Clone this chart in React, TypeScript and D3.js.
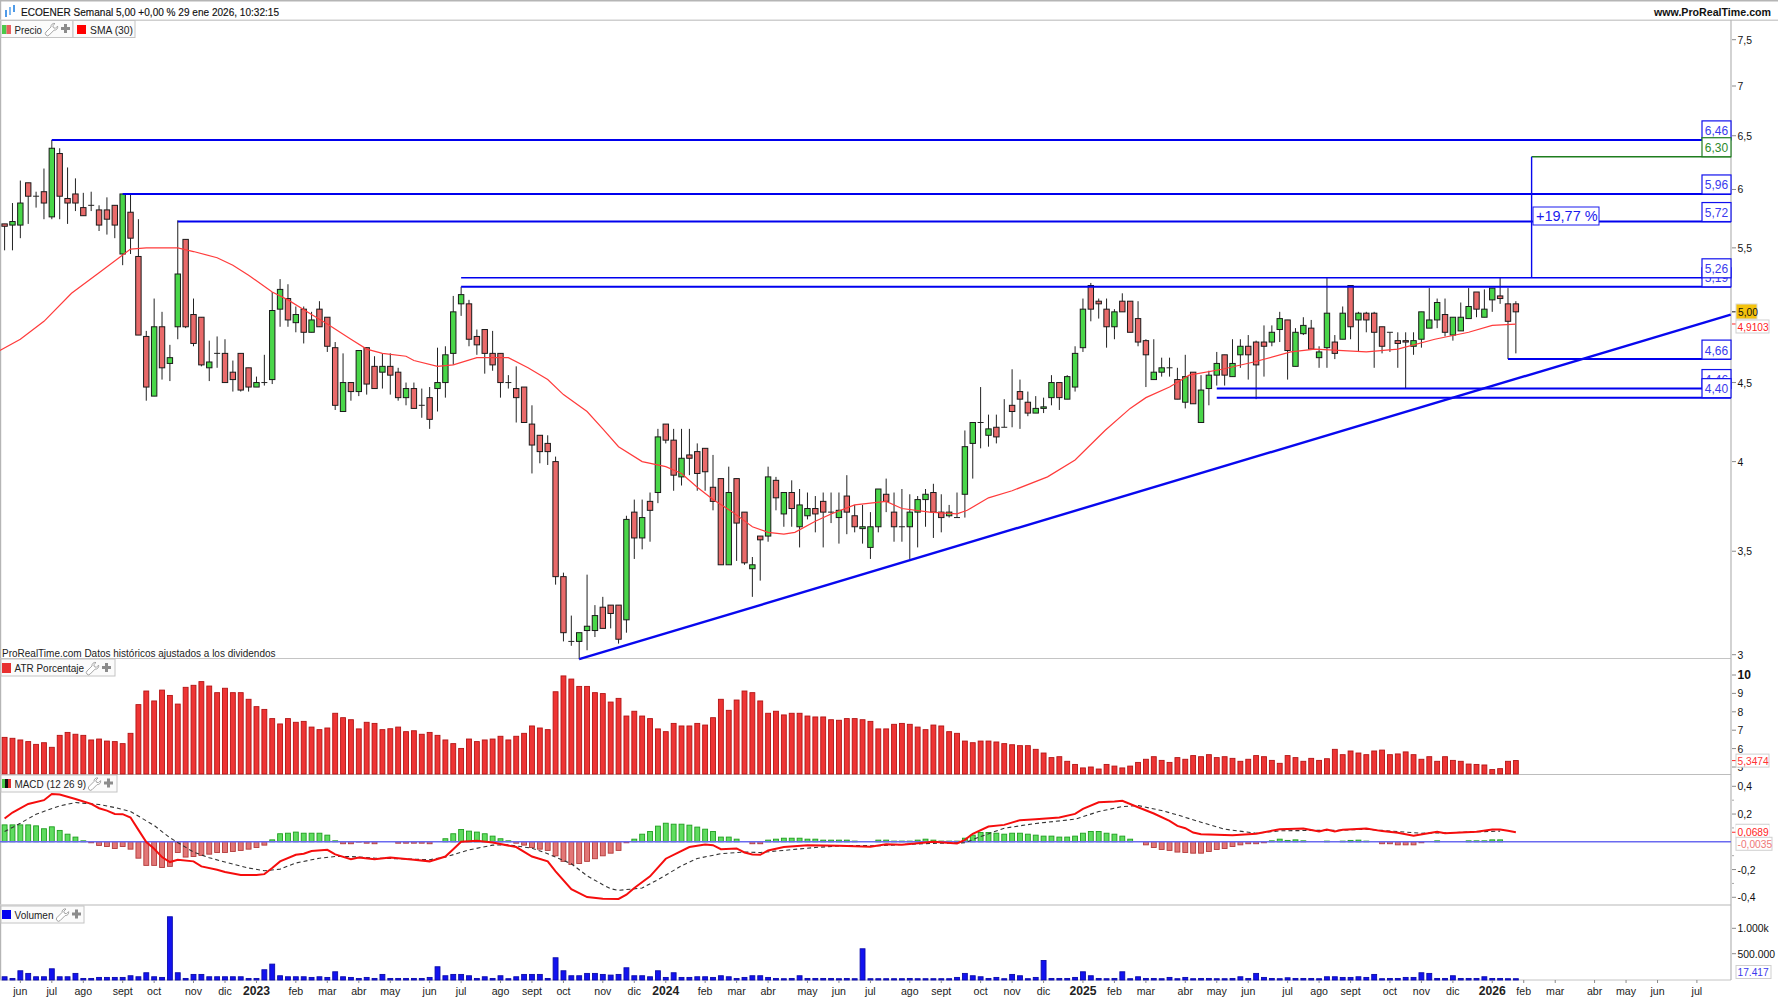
import React from 'react'
import * as d3 from 'd3'

// weekly candles, index 0 = week of 23 may 2022
const opens = [
  5.70,5.69,5.69,6.06,5.94,5.98,5.76,6.33,5.92,5.96,
  5.84,5.86,5.82,5.82,5.86,5.45,5.80,5.43,4.82,4.41,
  4.89,4.63,4.89,5.57,4.98,4.96,4.60,4.70,4.70,4.57,
  4.70,4.60,4.47,4.50,4.52,5.02,5.10,4.92,5.02,4.85,
  5.02,4.96,4.74,4.31,4.50,4.44,4.74,4.61,4.57,4.61,
  4.57,4.40,4.46,4.35,4.40,4.46,4.50,4.70,5.06,5.06,
  4.82,4.87,4.70,4.70,4.50,4.46,4.47,4.23,4.16,4.11,
  4.00,3.37,3.06,3.06,3.11,3.11,3.22,3.23,3.23,3.16,
  3.71,3.57,3.77,3.82,4.23,4.13,3.91,4.04,4.06,4.08,
  3.85,3.90,3.43,3.90,3.71,3.41,3.58,3.58,3.89,3.70,
  3.82,3.63,3.69,3.73,3.77,3.71,3.68,3.80,3.69,3.62,
  3.52,3.63,3.81,3.71,3.63,3.63,3.71,3.78,3.82,3.71,
  3.69,3.68,3.81,4.11,4.24,4.16,4.21,4.21,4.35,4.44,
  4.37,4.30,4.33,4.40,4.50,4.39,4.47,4.74,5.20,5.08,
  5.02,4.89,5.08,5.08,4.95,4.79,4.52,4.57,4.60,4.52,
  4.37,4.57,4.24,4.46,4.55,4.69,4.54,4.69,4.75,4.78,
  4.78,4.78,4.87,4.94,4.61,4.84,4.88,4.67,4.74,4.78,
  4.80,5.20,4.94,4.99,4.99,4.89,4.85,4.79,4.79,4.75,
  4.80,4.88,4.94,4.98,4.83,4.86,4.95,5.15,4.96,5.09,
  5.12,5.06,5.06,
]
const closes = [
  5.68,5.72,5.88,5.94,5.94,5.88,6.38,5.94,5.88,5.88,
  5.77,5.86,5.69,5.74,5.69,5.96,5.58,4.83,4.47,4.89,
  4.60,4.67,5.29,4.89,4.77,4.62,4.64,4.70,4.50,4.52,
  4.45,4.47,4.50,4.50,5.01,5.17,4.94,4.98,4.85,4.94,
  4.89,4.75,4.35,4.50,4.44,4.72,4.49,4.46,4.61,4.55,
  4.40,4.46,4.33,4.35,4.26,4.50,4.69,5.00,5.13,4.80,
  4.76,4.70,4.62,4.50,4.50,4.40,4.24,4.10,4.06,4.06,
  3.37,3.10,3.06,3.10,3.13,3.18,3.12,3.19,3.07,3.67,
  3.57,3.68,3.72,4.15,4.13,3.92,4.02,4.02,3.93,3.94,
  3.77,3.43,3.82,3.65,3.44,3.43,3.56,3.91,3.79,3.82,
  3.73,3.75,3.73,3.70,3.71,3.71,3.72,3.71,3.63,3.63,
  3.63,3.84,3.77,3.63,3.63,3.71,3.78,3.81,3.71,3.68,
  3.71,3.68,4.09,4.24,4.24,4.20,4.15,4.21,4.31,4.39,
  4.30,4.33,4.34,4.50,4.40,4.54,4.70,5.02,5.02,5.06,
  4.89,5.00,5.00,4.85,4.78,4.69,4.57,4.60,4.60,4.39,
  4.54,4.36,4.45,4.55,4.63,4.55,4.63,4.75,4.69,4.62,
  4.75,4.85,4.95,4.72,4.85,4.90,4.73,4.71,4.99,4.70,
  4.99,4.89,4.99,4.94,4.85,4.75,4.85,4.77,4.78,4.79,
  5.00,4.94,5.07,4.85,4.96,4.96,5.04,5.02,5.02,5.18,
  5.10,4.93,5.00,
]
const highs = [
  5.70,5.88,6.08,6.06,5.98,6.19,6.46,6.38,6.20,6.10,
  5.97,5.98,5.86,5.93,5.86,5.96,5.96,5.74,4.86,5.10,
  5.00,4.76,5.73,5.57,5.10,4.96,4.79,4.82,4.80,4.65,
  4.70,4.60,4.54,4.69,5.15,5.25,5.21,5.04,5.04,5.00,
  5.08,4.96,4.78,4.70,4.50,4.72,4.74,4.68,4.70,4.70,
  4.60,4.50,4.50,4.46,4.47,4.74,4.75,5.12,5.19,5.09,
  4.87,4.87,4.86,4.70,4.55,4.61,4.47,4.35,4.16,4.16,
  4.03,3.39,3.18,3.10,3.38,3.23,3.27,3.23,3.23,3.69,
  3.78,3.78,3.82,4.20,4.23,4.20,4.20,4.20,4.11,4.08,
  4.04,3.90,3.97,3.90,3.71,3.47,3.58,3.97,3.91,3.82,
  3.89,3.84,3.82,3.80,3.82,3.82,3.82,3.92,3.75,3.75,
  3.71,3.84,3.90,3.82,3.84,3.81,3.80,3.84,3.87,3.81,
  3.75,3.82,4.19,4.24,4.47,4.29,4.29,4.39,4.59,4.52,
  4.44,4.41,4.40,4.55,4.50,4.55,4.75,5.10,5.22,5.10,
  5.10,5.02,5.14,5.08,5.08,4.80,4.80,4.67,4.67,4.60,
  4.69,4.57,4.55,4.58,4.71,4.69,4.80,4.80,4.83,4.79,
  4.90,4.90,5.00,4.94,4.88,4.96,4.94,4.75,5.26,4.83,
  5.04,5.20,5.00,5.00,5.00,4.89,4.85,4.85,4.85,4.85,
  5.00,5.18,5.10,5.10,4.96,5.07,5.18,5.15,5.17,5.18,
  5.26,5.18,5.08,
]
const lows = [
  5.48,5.48,5.58,5.70,5.84,5.74,5.74,5.74,5.70,5.81,
  5.77,5.81,5.64,5.61,5.58,5.36,5.45,4.83,4.38,4.41,
  4.52,4.51,4.80,4.88,4.75,4.61,4.51,4.60,4.50,4.44,
  4.44,4.44,4.47,4.48,4.49,4.89,4.89,4.85,4.77,4.85,
  4.89,4.71,4.32,4.31,4.38,4.41,4.42,4.46,4.46,4.42,
  4.38,4.35,4.33,4.27,4.20,4.31,4.40,4.62,4.97,4.75,
  4.69,4.56,4.58,4.40,4.46,4.24,4.24,3.93,3.99,3.98,
  3.33,3.06,3.04,2.98,3.02,3.08,3.12,3.12,3.05,3.10,
  3.46,3.51,3.55,3.76,4.11,3.83,3.86,3.92,3.83,3.83,
  3.72,3.43,3.43,3.45,3.43,3.27,3.35,3.55,3.72,3.63,
  3.63,3.52,3.67,3.60,3.52,3.65,3.54,3.59,3.60,3.54,
  3.46,3.60,3.71,3.55,3.55,3.46,3.52,3.63,3.57,3.60,
  3.68,3.68,3.68,3.90,4.08,4.09,4.11,4.21,4.21,4.20,
  4.28,4.30,4.30,4.35,4.32,4.39,4.44,4.71,4.93,4.95,
  4.74,4.80,5.00,4.85,4.75,4.47,4.52,4.54,4.54,4.39,
  4.33,4.36,4.24,4.35,4.48,4.48,4.54,4.60,4.52,4.39,
  4.54,4.75,4.78,4.52,4.61,4.83,4.73,4.60,4.60,4.66,
  4.80,4.80,4.71,4.85,4.60,4.70,4.71,4.60,4.46,4.69,
  4.74,4.88,4.88,4.82,4.79,4.86,4.95,4.96,4.96,5.00,
  5.06,4.66,4.70,
]

// SMA(30) read at a set of weeks
const smaWeeks = [-0.6,2,5,8.5,12,16,18,22,24,27,29,31,34,36,39,41,44,46,48,51,52,55,57,60,64,66.5,69,71,74,76,78,81,84,86,88,90,92.5,95,97,99,100.4,103,105,108,112,114,117.5,121,122.3,125,128,132.5,136,139.8,143,145,148,150.5,154.7,158.7,163.4,166.5,173,177,181.7,186,189,192]
const smaValues = [4.72,4.80,4.93,5.14,5.30,5.49,5.50,5.50,5.47,5.42,5.36,5.28,5.15,5.09,4.98,4.91,4.80,4.73,4.70,4.68,4.65,4.61,4.62,4.67,4.67,4.60,4.52,4.42,4.31,4.20,4.09,4.00,3.97,3.93,3.85,3.78,3.71,3.63,3.60,3.59,3.60,3.66,3.70,3.75,3.77,3.73,3.71,3.70,3.72,3.79,3.83,3.91,4.01,4.19,4.33,4.40,4.47,4.55,4.59,4.64,4.71,4.73,4.71,4.73,4.80,4.85,4.90,4.91]

const atrValues = [
  6.61,6.56,6.47,6.38,6.23,6.32,6.07,6.72,6.88,6.78,
  6.72,6.47,6.52,6.41,6.38,6.27,6.83,8.39,9.13,8.59,
  9.18,8.89,8.42,9.33,9.44,9.64,9.40,9.04,9.28,9.04,
  9.04,8.68,8.28,8.13,7.63,7.34,7.63,7.43,7.48,7.17,
  7.03,7.12,7.92,7.68,7.57,7.07,7.43,7.37,7.03,7.08,
  7.17,6.92,6.97,6.78,6.88,6.72,6.47,6.27,6.01,6.52,
  6.38,6.47,6.52,6.67,6.47,6.67,6.83,7.23,7.12,7.03,
  9.09,9.95,9.78,9.38,9.38,9.04,8.99,8.53,8.73,7.77,
  8.03,7.77,7.63,7.07,6.92,7.37,7.23,7.23,7.37,7.28,
  7.68,8.68,8.08,8.64,9.13,9.04,8.59,7.92,8.03,7.83,
  7.92,7.92,7.77,7.72,7.72,7.57,7.54,7.63,7.63,7.57,
  7.48,7.07,7.07,7.32,7.37,7.32,7.17,7.03,7.28,7.23,
  6.92,6.83,6.41,6.32,6.41,6.41,6.36,6.27,6.21,6.16,
  6.16,5.96,5.76,5.51,5.56,5.31,5.14,4.95,5.00,4.89,
  5.14,5.05,4.95,5.05,5.25,5.42,5.56,5.36,5.25,5.51,
  5.42,5.62,5.56,5.67,5.51,5.56,5.47,5.31,5.42,5.62,
  5.56,5.36,5.20,5.62,5.51,5.31,5.47,5.36,5.45,5.96,
  5.67,5.87,5.76,5.67,5.87,5.92,5.67,5.71,5.82,5.67,
  5.42,5.56,5.31,5.56,5.36,5.31,5.16,5.14,5.11,4.86,
  4.91,5.31,5.35,
]

const macdHist = [
  .122,.122,.122,.122,.115,.094,.108,.082,.055,.034,
  .007,-.007,-.026,-.034,-.048,-.034,-.053,-.118,-.170,-.170,
  -.185,-.177,-.077,-.110,-.106,-.098,-.089,-.077,-.077,-.070,
  -.062,-.053,-.041,-.024,.014,.058,.062,.070,.062,.062,
  .062,.048,.007,-.014,-.014,-.002,-.010,-.014,0,0,
  -.010,-.010,-.010,-.010,-.014,0,.022,.058,.089,.077,
  .070,.058,.041,.022,.007,-.010,-.024,-.041,-.053,-.062,
  -.101,-.141,-.163,-.156,-.141,-.122,-.101,-.082,-.062,-.007,
  .019,.055,.074,.113,.134,.127,.127,.120,.106,.091,
  .074,.034,.034,.019,0,-.014,-.014,.012,.019,.026,
  .026,.026,.019,.019,.012,.012,.012,.012,.005,0,
  0,.012,.012,.005,.005,.005,.012,.019,.012,.005,
  .005,.005,.026,.048,.067,.067,.062,.055,.062,.062,
  .055,.048,.041,.041,.034,.034,.041,.062,.074,.074,
  .062,.055,.041,.019,0,-.022,-.041,-.055,-.062,-.074,
  -.077,-.082,-.082,-.070,-.055,-.048,-.034,-.022,-.014,-.014,
  -.007,.007,.019,.010,.014,.007,0,0,.005,0,
  .005,.010,.012,.005,0,-.014,-.014,-.022,-.022,-.022,
  -.007,0,.007,0,0,0,.007,.007,.007,.014,
  .014,0,0,
]

const macdWeeks = [0,1,3,5,6,7,9,11,12,13,14,15,16,17,18,19,20,21,22,24,25,27,28,30,32,33,34,35,37,38,39,41,42,44,45,47,49,52,54,56,57,58,60,62,65,67,69,70,72,74,76,78,79,80,82,84,87,89,90,91,93,94,95,96,97,99,102,106,110,112,114,116,118,121,122,123,125,127,129,131,134,136,137,139,141,142,144,146,148,149,150,151,152,156,159,162,165,167,168,169,170,173,175,177,179,182,183,187,189,190,191,192]
const macdValues = [.168,.211,.273,.300,.345,.341,.309,.273,.242,.225,.201,.199,.175,.086,-.002,-.050,-.110,-.146,-.129,-.141,-.177,-.201,-.218,-.240,-.240,-.233,-.189,-.141,-.094,-.086,-.067,-.058,-.091,-.125,-.113,-.125,-.113,-.129,-.141,-.106,-.053,0,.007,-.005,-.038,-.106,-.141,-.213,-.341,-.398,-.410,-.412,-.381,-.333,-.249,-.122,-.038,-.019,-.024,-.053,-.048,-.077,-.091,-.094,-.062,-.038,-.024,-.029,-.036,-.017,-.022,-.010,0,-.012,.014,.058,.110,.122,.156,.163,.175,.201,.237,.285,.290,.295,.249,.204,.151,.115,.098,.067,.055,.048,.058,.091,.096,.074,.089,.074,.086,.096,.077,.065,.043,.072,.062,.072,.089,.089,.079,.069]

const signalWeeks = [0,2,4,7,9,12,14,16,19,21,24,26,29,31,33,35,37,40,42,44,47,50,54,56,59,62,64,67,69,72,74,76,77,78,81,83,86,88,91,94,96,99,103,107,111,115,119,122,124,127,131,136,139,142,144,147,149,152,155,159,162,166,169,173,175,180,183,187,190]
const signalValues = [.074,.134,.199,.259,.283,.269,.247,.218,.118,.029,-.074,-.115,-.161,-.189,-.209,-.197,-.153,-.118,-.106,-.106,-.118,-.122,-.129,-.110,-.058,-.024,-.022,-.046,-.086,-.158,-.245,-.309,-.338,-.350,-.333,-.273,-.173,-.120,-.086,-.074,-.077,-.062,-.041,-.026,-.029,-.017,-.010,-.007,.038,.098,.132,.163,.218,.254,.261,.225,.194,.141,.091,.062,.079,.082,.082,.091,.082,.062,.065,.072,.077]

// thousands of shares
const volumeK = [
  46,13,164,112,46,46,203,46,46,112,
  13,13,33,33,33,33,66,46,125,46,
  33,1227,125,13,92,92,46,46,46,46,
  46,13,13,184,295,66,46,46,46,33,
  46,33,144,46,33,13,33,13,92,13,
  13,13,13,13,33,243,66,92,92,66,
  13,46,13,66,8,46,92,92,92,13,
  420,164,66,66,112,112,92,79,92,223,
  66,66,46,164,33,125,33,33,46,46,
  33,66,46,13,33,66,66,33,13,8,
  13,66,13,13,13,13,8,13,8,597,
  8,8,8,8,8,13,8,8,8,8,
  8,33,112,66,46,13,33,8,92,66,
  8,33,367,13,13,13,33,144,66,13,
  8,13,144,8,46,13,13,8,33,8,
  33,8,13,13,8,8,13,46,13,112,
  33,13,8,26,13,13,13,8,46,46,
  33,33,46,33,92,8,13,13,33,33,
  125,112,13,13,66,13,13,13,46,13,
  13,8,8,
]

const priceTicks = [3,3.5,4,4.5,5.5,6,6.5,7,7.5]
const atrTicks = [5,6,7,8,9,10]
const macdTicks = [-0.4,-0.2,0.2,0.4]
const macdMinorTicks = [-0.3,-0.1,0.1,0.3]
const volumeTicks = [500000,1000000]
const volumeTickLabels = ['500.000','1.000k']

const timeWeeks = [2,6,10,15,19,24,28,32,37,41,45,49,54,58,63,67,71,76,80,84,89,93,97,102,106,110,115,119,124,128,132,137,141,145,150,154,158,163,167,171,176,180,184,189,193,197,202,206,210,215]
const timeLabels = ['jun','jul','ago','sept','oct','nov','dic','2023','feb','mar','abr','may','jun','jul','ago','sept','oct','nov','dic','2024','feb','mar','abr','may','jun','jul','ago','sept','oct','nov','dic','2025','feb','mar','abr','may','jun','jul','ago','sept','oct','nov','dic','2026','feb','mar','abr','may','jun','jul']

// horizontal levels: order matters, later boxes cover earlier ones
const levelPrices = [6.46,5.96,5.72,5.19,5.26,4.66,4.46,4.40]
const levelStarts = [6,15,22,58,58,191,154,154]
const levelLabels = ['6,46','5,96','5,72','5,19','5,26','4,66','4,46','4,40']

const trendWeeks = [73,219.3]
const trendPrices = [2.98,4.98]

const targetWeek = 194
const targetPrice = 6.3
const targetBase = 5.26

const WIDTH = 1778
const HEIGHT = 1000
const AXIS_X = 1731
const FONT = '"Liberation Sans", Arial, sans-serif'

const x = d3.scaleLinear().domain([0, 215]).range([4.6, 1696.9])
const yPrice = d3.scaleLog().domain([3, 7.5]).range([654.7, 39.7])
const yAtr = d3.scaleLinear().domain([5, 10]).range([767, 675])
const yMacd = d3.scaleLinear().domain([-0.4, 0.4]).range([897.3, 786.3])
const yVol = d3.scaleLinear().domain([0, 1000000]).range([979.1, 928.3])

const comma = (v: number) => String(v).replace('.', ',')

const Tick = ({ y, label, bold }: { y: number; label: string; bold?: boolean }) => (
  <g>
    <line x1={AXIS_X + 1} x2={AXIS_X + 5} y1={y} y2={y} stroke="#8a8a8a" />
    <text x={AXIS_X + 6.5} y={y + 4} fontSize={bold ? 12 : 10.4} fontWeight={bold ? 'bold' : 'normal'} fill="#111">
      {label}
    </text>
  </g>
)

const Tools = ({ x0, y0 }: { x0: number; y0: number }) => (
  <g>
    <path
      d={`M${x0} ${y0 + 8.5} l5 -5 a3.2 3.2 0 0 1 4 -3.5 l-2.2 2.2 .6 2 2 .6 2.2 -2.2 a3.2 3.2 0 0 1 -3.5 4 l-5 5 a1.8 1.8 0 0 1 -3.1 -3.1 z`}
      fill="#fff"
      stroke="#9a9a9a"
      strokeWidth={0.9}
    />
    <path
      d={`M${x0 + 18} ${y0 + 0.5} h3 v3 h3 v3 h-3 v3 h-3 v-3 h-3 v-3 h3 z`}
      fill="#8c8c8c"
    />
  </g>
)

const LegendBox = ({ x0, y0, w, label, tx, tw }: { x0: number; y0: number; w: number; label: string; tx: number; tw: number }) => (
  <g>
    <rect x={x0} y={y0} width={w} height={17} fill="#fbfbfb" stroke="#c4c4c4" />
    <text x={tx} y={y0 + 13} fontSize={11} fill="#222" textLength={tw} lengthAdjust="spacingAndGlyphs">{label}</text>
  </g>
)

const ValueBox = ({ y, w, label, color, fill, border }: { y: number; w: number; label: string; color: string; fill: string; border: string }) => (
  <g>
    <rect x={1736} y={y - 6.5} width={w} height={13} fill={fill} stroke={border} />
    <text x={1737.5} y={y + 4} fontSize={10.2} fill={color}>{label}</text>
  </g>
)

export default function App() {
  const smaLine = d3.line<number>()
    .x((d) => x(d))
    .y((_, i) => yPrice(smaValues[i]))
  const macdLine = d3.line<number>()
    .x((d) => x(d))
    .y((_, i) => yMacd(macdValues[i]))
  const signalLine = d3.line<number>()
    .x((d) => x(d))
    .y((_, i) => yMacd(signalValues[i]))
  const trendLine = d3.line<number>()
    .x((d) => x(d))
    .y((_, i) => yPrice(trendPrices[i]))

  const zero = yMacd(0)
  const barW = 4.9

  return (
    <svg
      width={WIDTH}
      height={HEIGHT}
      style={{ position: 'absolute', left: 0, top: 0, background: '#fff', fontFamily: FONT }}
    >
      {/* frame */}
      <rect x={0} y={0} width={WIDTH} height={1.5} fill="#b5b5b5" />
      <rect x={0} y={0} width={1.2} height={980} fill="#b5b5b5" />
      <rect x={0} y={19.5} width={WIDTH} height={1.5} fill="#cfcfcf" />
      <line x1={0} x2={AXIS_X} y1={658.5} y2={658.5} stroke="#c4c4c4" />
      <line x1={0} x2={AXIS_X} y1={774.5} y2={774.5} stroke="#bdbdbd" />
      <line x1={0} x2={AXIS_X} y1={905} y2={905} stroke="#cfcfcf" strokeWidth={1.5} />
      <line x1={0} x2={AXIS_X} y1={980} y2={980} stroke="#c4c4c4" />
      <line x1={AXIS_X} x2={AXIS_X} y1={20} y2={980} stroke="#b5b5b5" strokeWidth={1.2} />

      {/* candles */}
      <g>
        {opens.map((o, i) => {
          const c = closes[i]
          const top = yPrice(Math.max(o, c))
          const bot = yPrice(Math.min(o, c))
          const cx = x(i)
          return (
            <g key={i}>
              <line x1={cx} x2={cx} y1={yPrice(highs[i])} y2={yPrice(lows[i])} stroke="#222" />
              {o === c ? (
                <line x1={cx - 3} x2={cx + 3} y1={top} y2={top} stroke="#222" />
              ) : (
                <rect
                  x={cx - 2.7}
                  y={top}
                  width={5.4}
                  height={bot - top}
                  fill={c > o ? '#49d649' : '#e96a6a'}
                  stroke="#1a1a1a"
                />
              )}
            </g>
          )
        })}
      </g>

      <path d={smaLine(smaWeeks) ?? ''} fill="none" stroke="#ff3b3b" strokeWidth={1.2} />

      {/* drawn levels */}
      {levelPrices.map((p, i) => (
        <line
          key={i}
          x1={x(levelStarts[i])}
          x2={AXIS_X}
          y1={yPrice(p)}
          y2={yPrice(p)}
          stroke="#0000ee"
          strokeWidth={p === 5.26 ? 1.6 : 2}
        />
      ))}
      <path d={trendLine(trendWeeks) ?? ''} fill="none" stroke="#0808ee" strokeWidth={2.4} />
      <line x1={x(targetWeek)} x2={AXIS_X} y1={yPrice(targetPrice)} y2={yPrice(targetPrice)} stroke="#1e7d1e" strokeWidth={1.6} />
      <line x1={x(targetWeek)} x2={x(targetWeek)} y1={yPrice(targetPrice)} y2={yPrice(targetBase)} stroke="#0808ee" strokeWidth={1.4} />
      <rect x={1533} y={207} width={66} height={18} fill="#fff" stroke="#1a1aee" />
      <text x={1536} y={221} fontSize={14.5} fill="#1a1aee">+19,77 %</text>

      {levelLabels.map((l, i) => {
        const y = yPrice(levelPrices[i])
        return (
          <g key={l}>
            <rect x={1702} y={y - 19} width={29} height={19} fill="#fff" stroke="#1010ee" strokeWidth={1.2} />
            <text x={1716.5} y={y - 4.5} fontSize={12} textAnchor="middle" fill="#3a3aee">{l}</text>
          </g>
        )
      })}
      <rect x={1702} y={yPrice(targetPrice) - 19} width={29} height={19} fill="#fff" stroke="#1e7d1e" strokeWidth={1.2} />
      <text x={1716.5} y={yPrice(targetPrice) - 4.5} fontSize={12} textAnchor="middle" fill="#2d8a2d">{comma(6.3)}0</text>

      {/* price axis */}
      {priceTicks.map((t) => (
        <Tick key={t} y={yPrice(t)} label={comma(t)} />
      ))}
      <line x1={AXIS_X + 1} x2={AXIS_X + 5} y1={yPrice(5)} y2={yPrice(5)} stroke="#111" />
      <rect x={1736} y={304} width={21} height={15} fill="#f4c20d" stroke="#d9d9d9" />
      <text x={1738} y={315.5} fontSize={10.2} fill="#111">5,00</text>
      <line x1={AXIS_X + 1} x2={AXIS_X + 5} y1={yPrice(4.9103)} y2={yPrice(4.9103)} stroke="#f22" />
      <rect x={1736} y={320} width={33} height={13} fill="#fff" stroke="#cfcfcf" />
      <text x={1737.5} y={330.5} fontSize={10.2} fill="#f22">4,9103</text>

      {/* ATR pane */}
      <g>
        {atrValues.map((v, i) => (
          <rect
            key={i}
            x={x(i) - barW / 2}
            y={yAtr(v)}
            width={barW}
            height={774 - yAtr(v)}
            fill="#ee3434"
            stroke="#b31414"
            strokeWidth={0.9}
          />
        ))}
      </g>
      {atrTicks.map((t) => (
        <Tick key={t} y={yAtr(t)} label={String(t)} bold={t === 10} />
      ))}
      <line x1={AXIS_X + 1} x2={AXIS_X + 5} y1={yAtr(5.3474)} y2={yAtr(5.3474)} stroke="#f22" />
      <ValueBox y={yAtr(5.3474)} w={33} label="5,3474" color="#f33" fill="#fff" border="#cfcfcf" />

      {/* MACD pane */}
      <g>
        {macdHist.map((v, i) =>
          v === 0 ? null : (
            <rect
              key={i}
              x={x(i) - barW / 2}
              y={Math.min(yMacd(v), zero)}
              width={barW}
              height={Math.abs(yMacd(v) - zero)}
              fill={v > 0 ? '#5fdc5f' : '#e27676'}
              stroke={v > 0 ? '#1f9e1f' : '#b23a3a'}
              strokeWidth={0.9}
            />
          ),
        )}
      </g>
      <line x1={0} x2={AXIS_X} y1={zero} y2={zero} stroke="#6a6af0" strokeWidth={1.5} />
      <path d={signalLine(signalWeeks) ?? ''} fill="none" stroke="#333" strokeWidth={1.1} strokeDasharray="4 3" />
      <path d={macdLine(macdWeeks) ?? ''} fill="none" stroke="#f50d0d" strokeWidth={2} />
      {macdMinorTicks.map((t) => (
        <line key={t} x1={AXIS_X + 1} x2={AXIS_X + 3} y1={yMacd(t)} y2={yMacd(t)} stroke="#a8a8a8" />
      ))}
      {macdTicks.map((t) => (
        <Tick key={t} y={yMacd(t)} label={comma(t)} />
      ))}
      <ValueBox y={yMacd(0.0724) - 1} w={33} label="0,0724" color="#333" fill="#fff" border="#cfcfcf" />
      <line x1={AXIS_X + 1} x2={AXIS_X + 5} y1={yMacd(0.0689)} y2={yMacd(0.0689)} stroke="#f22" />
      <ValueBox y={yMacd(0.0689)} w={33} label="0,0689" color="#f22" fill="#fff" border="#fff" />
      <ValueBox y={yMacd(-0.0035) + 1.5} w={36} label="-0,0035" color="#e77" fill="#fff" border="#cfcfcf" />

      {/* volume pane */}
      <g>
        {volumeK.map((v, i) => (
          <rect
            key={i}
            x={x(i) - barW / 2}
            y={yVol(v * 1000)}
            width={barW}
            height={980 - yVol(v * 1000)}
            fill="#1212f0"
            stroke="#0b0baa"
            strokeWidth={0.9}
          />
        ))}
      </g>
      {volumeTicks.map((t, i) => (
        <Tick key={t} y={yVol(t)} label={volumeTickLabels[i]} />
      ))}
      <ValueBox y={972} w={35} label="17.417" color="#3a3aee" fill="#fff" border="#cfcfcf" />

      {/* time axis */}
      {timeWeeks.map((w, i) => {
        const year = timeLabels[i].length === 4 && timeLabels[i][0] === '2'
        return (
          <g key={i}>
            <line x1={x(w)} x2={x(w)} y1={980} y2={983} stroke="#8a8a8a" />
            <text
              x={x(w)}
              y={year ? 995 : 994.5}
              textAnchor="middle"
              fontSize={year ? 12.2 : 10.6}
              fontWeight={year ? 'bold' : 'normal'}
              fill="#222"
            >
              {timeLabels[i]}
            </text>
          </g>
        )
      })}

      {/* header */}
      <g>
        <rect x={5} y={10} width={2} height={7} fill="#4f9be8" />
        <rect x={9} y={7} width={2} height={8} fill="#7fb8ee" />
        <rect x={13} y={5} width={2} height={7} fill="#4f9be8" />
      </g>
      <text x={21} y={16} fontSize={11} fill="#111" stroke="#111" strokeWidth={0.15} textLength={258} lengthAdjust="spacingAndGlyphs">
        ECOENER Semanal 5,00 +0,00 % 29 ene 2026, 10:32:15
      </text>
      <text x={1654} y={16} fontSize={11} fontWeight="bold" fill="#111" textLength={117} lengthAdjust="spacingAndGlyphs">
        www.ProRealTime.com
      </text>

      {/* legends */}
      <LegendBox x0={1} y0={20.5} w={72} label="Precio" tx={14.5} tw={27.5} />
      <rect x={2} y={25} width={4.5} height={9} fill="#4bc94b" />
      <rect x={6.5} y={25} width={4.5} height={9} fill="#e86060" />
      <Tools x0={46} y0={23.5} />
      <LegendBox x0={73} y0={20.5} w={62} label="SMA (30)" tx={90} tw={43} />
      <rect x={77} y={25} width={9} height={9} fill="#f00" />

      <LegendBox x0={1} y0={659} w={114} label="ATR Porcentaje" tx={14.5} tw={69.6} />
      <rect x={2} y={663} width={9} height={10} fill="#e83030" />
      <Tools x0={87} y0={662.5} />

      <LegendBox x0={1} y0={775} w={116} label="MACD (12 26 9)" tx={14.5} tw={71.6} />
      <rect x={2} y={779} width={3} height={9} fill="#4bc94b" />
      <rect x={5} y={779} width={3} height={9} fill="#111" />
      <rect x={8} y={779} width={3} height={9} fill="#e03030" />
      <Tools x0={89} y0={778} />

      <LegendBox x0={1} y0={906} w={83} label="Volumen" tx={14.5} tw={39} />
      <rect x={2} y={910} width={9} height={9} fill="#0000f0" />
      <Tools x0={57} y0={909} />

      <text x={2} y={657} fontSize={11} fill="#222" textLength={273.5} lengthAdjust="spacingAndGlyphs">
        ProRealTime.com  Datos históricos ajustados a los dividendos
      </text>
    </svg>
  )
}
